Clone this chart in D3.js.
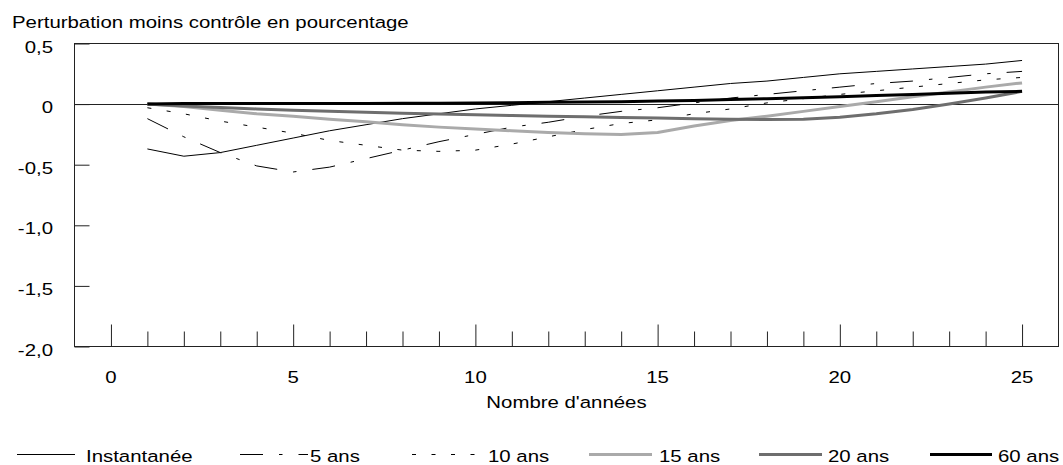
<!DOCTYPE html>
<html lang="fr">
<head>
<meta charset="utf-8">
<title>Perturbation moins contrôle</title>
<script src="https://cdn.jsdelivr.net/npm/d3@7"></script>
<style>
  html, body { margin: 0; padding: 0; background: #fff; }
  svg { display: block; }
  text { font-family: "Liberation Sans", Arial, sans-serif; font-size: 17px; fill: #000; }
</style>
</head>
<body>
<div id="chart"></div>
<script>
// data
const years = [1, 2, 3, 4, 5, 6, 7, 8, 9, 10, 11, 12, 13, 14, 15, 16, 17, 18, 19, 20, 21, 22, 23, 24, 25];

const instantanee = [-0.37, -0.43, -0.40, -0.34, -0.28, -0.22, -0.17, -0.12, -0.08, -0.04, -0.01, 0.02, 0.05,
  0.08, 0.11, 0.14, 0.17, 0.19, 0.22, 0.25, 0.27, 0.29, 0.31, 0.33, 0.36];
const cinqAns = [-0.12, -0.27, -0.40, -0.51, -0.56, -0.52, -0.45, -0.38, -0.31, -0.25, -0.19, -0.15, -0.10,
  -0.06, -0.03, 0.01, 0.05, 0.08, 0.11, 0.14, 0.17, 0.19, 0.22, 0.25, 0.27];
const dixAns = [-0.03, -0.08, -0.14, -0.19, -0.24, -0.30, -0.34, -0.38, -0.39, -0.38, -0.33, -0.27, -0.21,
  -0.16, -0.13, -0.08, -0.04, 0.01, 0.045, 0.08, 0.11, 0.14, 0.17, 0.20, 0.22];
const quinzeAns = [0.0, -0.02, -0.05, -0.08, -0.10, -0.125, -0.145, -0.17, -0.19, -0.205, -0.22, -0.235, -0.245,
  -0.25, -0.235, -0.18, -0.135, -0.10, -0.06, -0.02, 0.02, 0.06, 0.10, 0.14, 0.175];
const vingtAns = [0.0, -0.015, -0.028, -0.04, -0.05, -0.06, -0.068, -0.076, -0.082, -0.088, -0.094, -0.10, -0.105,
  -0.11, -0.115, -0.12, -0.126, -0.128, -0.125, -0.108, -0.08, -0.045, 0.0, 0.05, 0.105];
const soixanteAns = [0.0, 0.005, 0.005, 0.005, 0.005, 0.005, 0.005, 0.006, 0.008, 0.01, 0.012, 0.015, 0.018,
  0.02, 0.025, 0.03, 0.037, 0.045, 0.052, 0.06, 0.07, 0.08, 0.09, 0.10, 0.105];

const seriesNames = ["Instantanée", "5 ans", "10 ans", "15 ans", "20 ans", "60 ans"];
const seriesValues = [instantanee, cinqAns, dixAns, quinzeAns, vingtAns, soixanteAns];

const yTicks = [0.5, 0, -0.5, -1.0, -1.5, -2.0];
const yTickLabels = ["0,5", "0", "-0,5", "-1,0", "-1,5", "-2,0"];
const xTicks = [0, 1, 2, 3, 4, 5, 6, 7, 8, 9, 10, 11, 12, 13, 14, 15, 16, 17, 18, 19, 20, 21, 22, 23, 24, 25];
const xTickLabels = [0, 5, 10, 15, 20, 25];

const titleText = "Perturbation moins contrôle en pourcentage";
const xTitleText = "Nombre d'années";

// line styles, one per series
const styles = [
  { color: "#000", width: 1, dash: null },
  { color: "#000", width: 1, dash: "23,16,3.5,16" },
  { color: "#000", width: 1, dash: "4,15.5" },
  { color: "#aaaaaa", width: 3, dash: null },
  { color: "#6e6e6e", width: 3, dash: null },
  { color: "#000", width: 3, dash: null }
];

// legend placement (line start, line end, text start)
const legendLayout = [
  [17, 75, 86], [240, 308, 310], [412, 476, 488],
  [589, 652, 659], [759, 822, 828], [930, 992, 998]
];

class PerturbationChart {
  constructor(_config) {
    this.config = {
      parentElement: _config.parentElement,
      containerWidth: _config.containerWidth || 1063,
      containerHeight: _config.containerHeight || 465,
      plot: { left: 74.5, right: 1058.5, top: 43.5, bottom: 346.5 },
      stretch: 1.2 // the original glyphs are drawn wider than normal
    };
    this.initVis();
  }

  // text with the horizontal stretch of the original picture
  addText(parent, x, y, str, anchor) {
    return parent.append("text")
      .attr("transform", `translate(${x},${y}) scale(${this.config.stretch},1)`)
      .attr("text-anchor", anchor || "start")
      .text(str);
  }

  initVis() {
    let vis = this;
    let p = vis.config.plot;

    vis.svg = d3.select(vis.config.parentElement)
      .append("svg")
      .attr("width", vis.config.containerWidth)
      .attr("height", vis.config.containerHeight);

    vis.xScale = d3.scaleLinear().domain([-1, 26]).range([p.left, p.right]);
    vis.yScale = d3.scaleLinear().domain([-2, 0.5]).range([p.bottom, p.top]);

    vis.addText(vis.svg, 12, 28, titleText);

    // frame
    vis.svg.append("rect")
      .attr("x", p.left).attr("y", p.top)
      .attr("width", p.right - p.left).attr("height", p.bottom - p.top)
      .attr("fill", "none").attr("stroke", "#222").attr("stroke-width", 1);

    // zero line
    vis.svg.append("line")
      .attr("x1", p.left).attr("x2", p.right)
      .attr("y1", Math.round(vis.yScale(0)) + 0.5).attr("y2", Math.round(vis.yScale(0)) + 0.5)
      .attr("stroke", "#222");

    // y axis, ticks inside
    let yAxis = d3.axisLeft(vis.yScale)
      .tickValues(yTicks)
      .tickSize(-15)
      .tickFormat("");
    vis.svg.append("g")
      .attr("transform", `translate(${p.left},0)`)
      .call(yAxis)
      .call(g => g.select(".domain").remove())
      .call(g => g.selectAll(".tick line").attr("stroke", "#222"));

    yTicks.forEach((t, i) => {
      vis.addText(vis.svg, 53, vis.yScale(t) + 9, yTickLabels[i], "end");
    });

    // x axis, ticks pointing up, longer every 5 years
    let xAxis = d3.axisBottom(vis.xScale)
      .tickValues(xTicks)
      .tickSize(0)
      .tickFormat("");
    vis.svg.append("g")
      .attr("transform", `translate(0,${p.bottom})`)
      .call(xAxis)
      .call(g => g.select(".domain").remove())
      .call(g => g.selectAll(".tick line")
        .attr("y2", d => (d % 5 === 0 ? -22 : -15))
        .attr("stroke", "#222"));

    xTickLabels.forEach(t => {
      vis.addText(vis.svg, vis.xScale(t), 383, t, "middle");
    });

    vis.addText(vis.svg, (p.left + p.right) / 2, 408, xTitleText, "middle");

    vis.renderVis();
  }

  renderVis() {
    let vis = this;

    let line = d3.line()
      .x((d, i) => vis.xScale(years[i]))
      .y(d => vis.yScale(d));

    vis.svg.append("g")
      .selectAll("path")
      .data(seriesValues)
      .join("path")
      .attr("d", d => line(d))
      .attr("fill", "none")
      .attr("stroke", (d, i) => styles[i].color)
      .attr("stroke-width", (d, i) => styles[i].width)
      .attr("stroke-dasharray", (d, i) => styles[i].dash)
      .attr("stroke-linejoin", "round");

    // legend
    let legend = vis.svg.append("g");
    seriesNames.forEach((name, i) => {
      let [x0, x1, tx] = legendLayout[i];
      legend.append("line")
        .attr("x1", x0).attr("x2", x1)
        .attr("y1", 454.5).attr("y2", 454.5)
        .attr("stroke", styles[i].color)
        .attr("stroke-width", styles[i].width)
        .attr("stroke-dasharray", styles[i].dash);
      vis.addText(legend, tx, 462, name);
    });
  }
}

new PerturbationChart({ parentElement: "#chart" });
</script>
</body>
</html>
